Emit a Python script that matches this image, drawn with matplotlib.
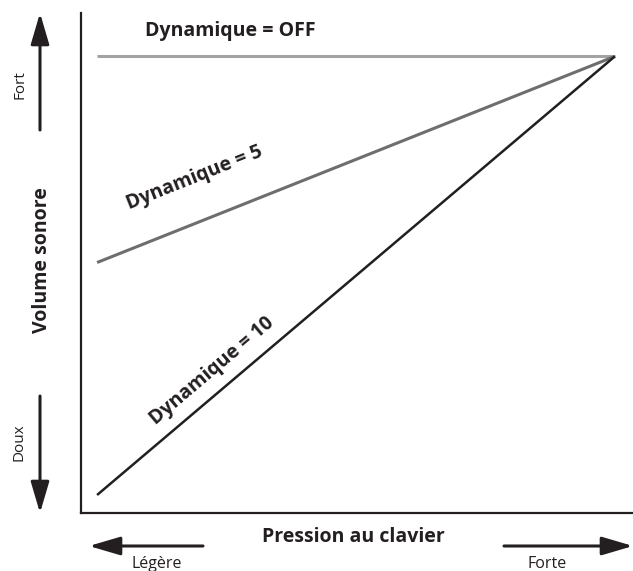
import numpy as np
import matplotlib
matplotlib.use("Agg")
import matplotlib.pyplot as plt

plt.rcParams['font.family'] = ['Open Sans', 'DejaVu Sans']

# keyboard pressure (0 = light, 1 = strong) and resulting volume for each setting
pression = [0.0, 1.0]
volume_off = [1.0, 1.0]
volume_5 = [0.53, 1.0]
volume_10 = [0.0, 1.0]

labels = ["Dynamique = OFF", "Dynamique = 5", "Dynamique = 10"]
ink = "#231f20"

fig = plt.figure(figsize=(6.33, 5.71), dpi=100)
ax = fig.add_axes([0.128, 0.1016, 0.872, 0.875])

ax.plot(pression, volume_off, color="#a3a3a3", lw=2.2, solid_capstyle="butt")
ax.plot(pression, volume_5, color="#6e6e6e", lw=2.2, solid_capstyle="butt")
ax.plot(pression, volume_10, color=ink, lw=1.8, solid_capstyle="butt")

ax.set_xlim(-0.031, 1.035)
ax.set_ylim(-0.041, 1.098)
for s in ["top", "right"]:
    ax.spines[s].set_visible(False)
for s in ["left", "bottom"]:
    ax.spines[s].set_linewidth(1.6)
    ax.spines[s].set_color(ink)
ax.set_xticks([])
ax.set_yticks([])

# line labels, rotated along each line
ax.text(0.093, 1.057, labels[0], fontsize=14, fontweight="bold", color=ink,
        ha="left", va="center")
ang5 = np.degrees(np.arctan2(volume_5[1] - volume_5[0], pression[1] - pression[0]))
ax.text(0.189, 0.722, labels[1], fontsize=14, fontweight="bold", color=ink,
        ha="center", va="center", rotation=ang5, rotation_mode="anchor",
        transform_rotates_text=True)
ang10 = np.degrees(np.arctan2(volume_10[1] - volume_10[0], pression[1] - pression[0]))
ax.text(0.222, 0.282, labels[2], fontsize=14, fontweight="bold", color=ink,
        ha="center", va="center", rotation=ang10, rotation_mode="anchor",
        transform_rotates_text=True)

# direction arrows outside the axes (figure pixels)
arrow = dict(arrowstyle="-|>,head_length=1.9,head_width=0.56", lw=2.2,
             color=ink, mutation_scale=10, shrinkA=0, shrinkB=0)
ax.annotate("", xy=(40, 558), xytext=(40, 441), xycoords="figure pixels",
            textcoords="figure pixels", arrowprops=arrow, annotation_clip=False)
ax.annotate("", xy=(40, 58), xytext=(40, 175), xycoords="figure pixels",
            textcoords="figure pixels", arrowprops=arrow, annotation_clip=False)
ax.annotate("", xy=(89, 25), xytext=(203, 25), xycoords="figure pixels",
            textcoords="figure pixels", arrowprops=arrow, annotation_clip=False)
ax.annotate("", xy=(633, 25), xytext=(504, 25), xycoords="figure pixels",
            textcoords="figure pixels", arrowprops=arrow, annotation_clip=False)

def fig_px(x, y):
    return x / fig.bbox.width, y / fig.bbox.height

fig.text(*fig_px(20, 486), "Fort", fontsize=11, color=ink, rotation=90,
         ha="center", va="center")
fig.text(*fig_px(19, 129), "Doux", fontsize=11, color=ink, rotation=90,
         ha="center", va="center")
fig.text(*fig_px(42, 311), "Volume sonore", fontsize=14, fontweight="bold",
         color=ink, rotation=90, ha="center", va="center")
fig.text(*fig_px(157, 7), "Légère", fontsize=11.5, color=ink, ha="center", va="center")
fig.text(*fig_px(547, 7), "Forte", fontsize=11.5, color=ink, ha="center", va="center")
fig.text(*fig_px(353, 34), "Pression au clavier", fontsize=14, fontweight="bold",
         color=ink, ha="center", va="center")

fig.savefig("out.png", dpi=100)
